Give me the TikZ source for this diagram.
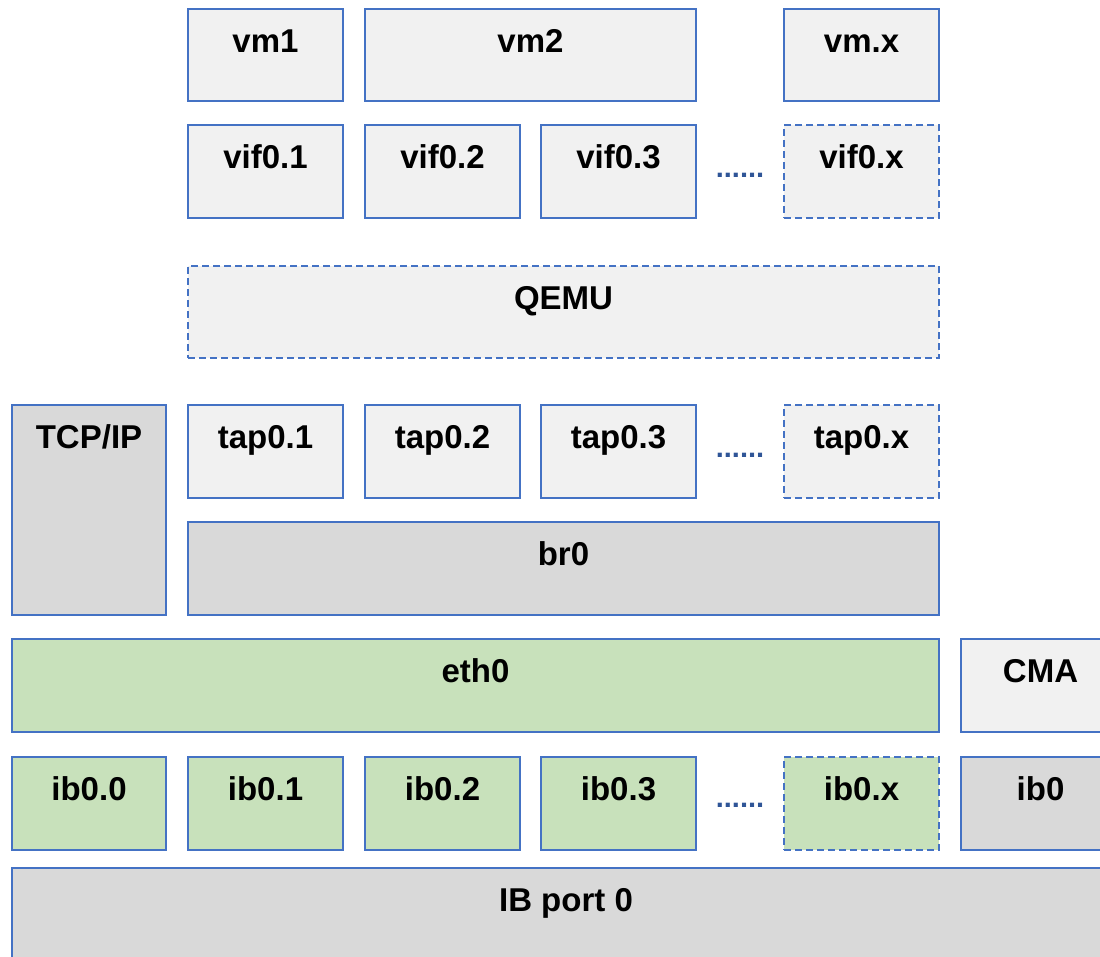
\documentclass[tikz,border=0pt]{standalone}
\usepackage{fontspec}
\setmainfont{Liberation Sans}
\definecolor{edge}{HTML}{4472C4}
\definecolor{dotblue}{HTML}{2F5597}
\definecolor{pale}{HTML}{F1F1F1}
\definecolor{mid}{HTML}{D9D9D9}
\definecolor{leaf}{HTML}{C8E1BB}
\tikzset{
  blk/.style={draw=edge, line width=2pt, rectangle, inner sep=0pt,
    font=\fontsize{33}{40}\selectfont\bfseries, text height=43.5pt},
  palebox/.style={blk, fill=pale},
  midbox/.style={blk, fill=mid},
  leafbox/.style={blk, fill=leaf},
  dashedge/.style={dash pattern=on 7pt off 4pt},
  dots/.style={text=dotblue, font=\fontsize{29}{34}\selectfont\bfseries,
    inner sep=0pt, anchor=base},
}
% \blk{name}{x1}{y1}{x2}{y2}{style}{label}
\newcommand\blk[7]{%
  \node[#6, minimum width={(#4)-(#2)}, minimum height={(#5)-(#3)},
    text depth={((#5)-(#3)-43.5)*1pt}]
    (#1) at ({((#2)+(#4))/2},{((#3)+(#5))/2}) {#7};}
\begin{document}
\begin{tikzpicture}[x=1pt, y=-1pt]
  \path[use as bounding box] (0,0) rectangle (1100,956);
  \clip (0,0) rectangle (1100,956);

  % guest machines
  \blk{vma}{188}{9}{343}{101}{palebox}{vm1}
  \blk{vmb}{365}{9}{696}{101}{palebox}{vm2}
  \blk{vmx}{784}{9}{939}{101}{palebox}{vm.x}

  % virtual interfaces
  \blk{vifa}{188}{125}{343}{218}{palebox}{vif0.1}
  \blk{vifb}{365}{125}{520}{218}{palebox}{vif0.2}
  \blk{vifc}{541}{125}{696}{218}{palebox}{vif0.3}
  \node[dots] (vifdots) at (740,177) {......};
  \blk{vifx}{784}{125}{939}{218}{palebox,dashedge}{vif0.x}

  % emulator
  \blk{qemu}{188}{266}{939}{358}{palebox,dashedge}{QEMU}

  % host stack and tap devices
  \blk{tcpip}{12}{405}{166}{615}{midbox}{TCP/IP}
  \blk{tapa}{188}{405}{343}{498}{palebox}{tap0.1}
  \blk{tapb}{365}{405}{520}{498}{palebox}{tap0.2}
  \blk{tapc}{541}{405}{696}{498}{palebox}{tap0.3}
  \node[dots] (tapdots) at (740,457) {......};
  \blk{tapx}{784}{405}{939}{498}{palebox,dashedge}{tap0.x}

  % bridge
  \blk{bridge}{188}{522}{939}{615}{midbox}{br0}

  % ethernet over IB
  \blk{eth}{12}{639}{939}{732}{leafbox}{eth0}
  \blk{cma}{961}{639}{1120}{732}{palebox}{CMA}

  % IB child interfaces
  \blk{iba}{12}{757}{166}{850}{leafbox}{ib0.0}
  \blk{ibb}{188}{757}{343}{850}{leafbox}{ib0.1}
  \blk{ibc}{365}{757}{520}{850}{leafbox}{ib0.2}
  \blk{ibd}{541}{757}{696}{850}{leafbox}{ib0.3}
  \node[dots] (ibdots) at (740,807) {......};
  \blk{ibx}{784}{757}{939}{850}{leafbox,dashedge}{ib0.x}
  \blk{ibparent}{961}{757}{1120}{850}{midbox}{ib0}

  % physical port
  \blk{port}{12}{868}{1120}{990}{midbox}{IB port 0}
\end{tikzpicture}
\end{document}
